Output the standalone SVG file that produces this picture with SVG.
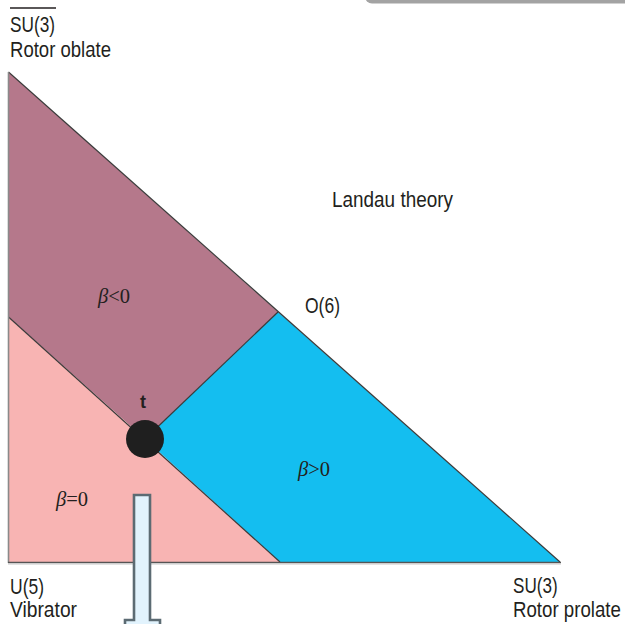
<svg xmlns="http://www.w3.org/2000/svg" width="625" height="624" viewBox="0 0 625 624">
<style>
.lbl{font-family:"Liberation Sans Narrow","Liberation Sans",Arial,sans-serif;font-size:22.5px;fill:#231f20}
.beta{font-family:"Liberation Serif","DejaVu Serif",serif;font-size:20.5px;fill:#231f20}
.edge{stroke:#3a3a3a;stroke-width:1.2;fill:none}
</style>
<rect width="625" height="624" fill="#ffffff"/>
<rect x="365" y="-12" width="275" height="15.5" rx="7" fill="#a3a3a3"/>
<g id="region-oblate">
<polygon points="8.5,72 278,312 145,439 8.5,317" fill="#b5788b"/>
</g>
<g id="region-vibrator">
<polygon points="8.5,317 145,439 280,562 8.5,562" fill="#f8b4b3"/>
</g>
<g id="region-prolate">
<polygon points="278,312 560,562 280,562 145,439" fill="#14bef0"/>
</g>
<g id="connectors">
<line class="edge" x1="8.5" y1="72" x2="560" y2="562"/>
<line class="edge" x1="8.5" y1="317" x2="280" y2="562"/>
<line class="edge" x1="145" y1="439" x2="278" y2="312"/>
<line x1="8.5" y1="72" x2="8.5" y2="563" stroke="#8a8a8a" stroke-width="1.6"/>
<line x1="8" y1="562.5" x2="561" y2="562.5" stroke="#555" stroke-width="1.6"/>
<line x1="8" y1="564" x2="561" y2="564" stroke="#c8c8c8" stroke-width="1"/>
</g>
<g id="node-t">
<circle cx="145" cy="439" r="19" fill="#1f1f1f"/>
<text x="140" y="408" font-family="Liberation Sans,Arial,sans-serif" font-weight="bold" font-size="18" fill="#231f20">t</text>
</g>
<g id="arrow">
<polygon points="134,495 150,495 150,620 160,620 160,640 125,640 125,620 134,620" fill="#e2f3fd" stroke="#5c6b73" stroke-width="2.6"/>
</g>
<g id="label-su3bar">
<line x1="10" y1="8" x2="56" y2="8" stroke="#231f20" stroke-width="1.5"/>
<text class="lbl" x="10" y="32" textLength="45" lengthAdjust="spacingAndGlyphs">SU(3)</text>
<text class="lbl" x="10" y="57" textLength="101" lengthAdjust="spacingAndGlyphs">Rotor oblate</text>
</g>
<g id="label-landau">
<text class="lbl" x="332" y="207" textLength="121" lengthAdjust="spacingAndGlyphs">Landau theory</text>
</g>
<g id="label-o6">
<text class="lbl" x="305" y="313" textLength="35" lengthAdjust="spacingAndGlyphs">O(6)</text>
</g>
<g id="label-u5">
<text class="lbl" x="10" y="594" textLength="34" lengthAdjust="spacingAndGlyphs">U(5)</text>
<text class="lbl" x="10" y="617" textLength="67" lengthAdjust="spacingAndGlyphs">Vibrator</text>
</g>
<g id="label-su3">
<text class="lbl" transform="translate(513,593) scale(0.76,1)" x="0" y="0">SU(3)</text>
<text class="lbl" transform="translate(513,617) scale(0.83,1)" x="0" y="0">Rotor prolate</text>
</g>
<g id="label-betas">
<text class="beta" x="98" y="303"><tspan font-style="italic">β</tspan>&lt;0</text>
<text class="beta" x="56" y="506"><tspan font-style="italic">β</tspan>=0</text>
<text class="beta" x="298" y="476"><tspan font-style="italic">β</tspan>&gt;0</text>
</g>
</svg>
